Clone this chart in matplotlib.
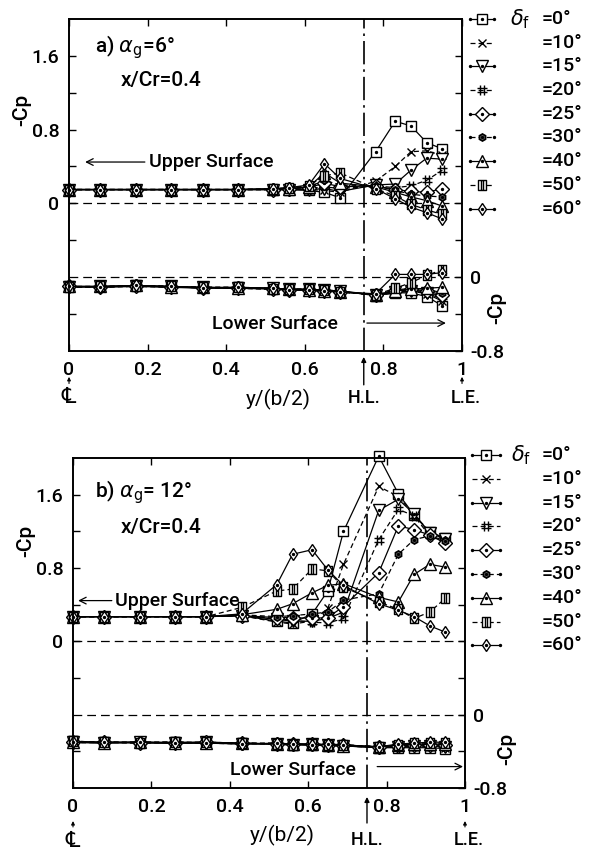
import matplotlib
matplotlib.use("Agg")
import matplotlib.pyplot as plt
from matplotlib.path import Path

plt.rcParams['font.family'] = ['Roboto', 'DejaVu Sans']
plt.rcParams['font.weight'] = 'medium'
plt.rcParams['mathtext.fontset'] = 'dejavusans'
plt.rcParams['font.size'] = 13

# spanwise stations y/(b/2)
span = [0.0, 0.08, 0.17, 0.26, 0.34, 0.43, 0.52, 0.56, 0.61, 0.65, 0.69,
        0.78, 0.83, 0.87, 0.91, 0.95]

flap_labels = ["=0°", "=10°", "=15°", "=20°", "=25°", "=30°", "=40°", "=50°", "=60°"]

# (a) alpha_g = 6 deg, upper surface -Cp (left scale)
up_a_0 = [0.15, 0.15, 0.15, 0.15, 0.15, 0.15, 0.15, 0.15, 0.14, 0.12, 0.06, 0.56, 0.89, 0.84, 0.66, 0.59]
up_a_10 = [0.15, 0.15, 0.15, 0.15, 0.15, 0.15, 0.15, 0.15, 0.15, 0.14, 0.12, 0.24, 0.40, 0.56, 0.57, 0.52]
up_a_15 = [0.15, 0.15, 0.15, 0.15, 0.15, 0.15, 0.15, 0.15, 0.15, 0.16, 0.13, 0.20, 0.21, 0.36, 0.49, 0.48]
up_a_20 = [0.15, 0.15, 0.15, 0.15, 0.15, 0.15, 0.15, 0.15, 0.16, 0.18, 0.16, 0.19, 0.17, 0.19, 0.25, 0.36]
up_a_25 = [0.15, 0.15, 0.15, 0.15, 0.15, 0.15, 0.15, 0.16, 0.17, 0.22, 0.18, 0.19, 0.15, 0.13, 0.12, 0.16]
up_a_30 = [0.15, 0.15, 0.15, 0.15, 0.15, 0.15, 0.15, 0.16, 0.18, 0.25, 0.20, 0.19, 0.14, 0.10, 0.08, 0.07]
up_a_40 = [0.15, 0.15, 0.15, 0.15, 0.15, 0.15, 0.16, 0.16, 0.18, 0.33, 0.22, 0.18, 0.12, 0.07, 0.03, -0.03]
up_a_50 = [0.15, 0.15, 0.15, 0.15, 0.15, 0.15, 0.16, 0.17, 0.19, 0.30, 0.33, 0.16, 0.08, -0.01, -0.07, -0.12]
up_a_60 = [0.15, 0.15, 0.15, 0.15, 0.15, 0.15, 0.16, 0.17, 0.20, 0.43, 0.27, 0.16, 0.05, -0.04, -0.10, -0.17]

# (a) lower surface -Cp (right scale)
lo_a_0 = [-0.10, -0.10, -0.09, -0.10, -0.11, -0.11, -0.12, -0.13, -0.13, -0.14, -0.15, -0.20, -0.17, -0.17, -0.21, -0.31]
lo_a_10 = [-0.10, -0.10, -0.09, -0.10, -0.11, -0.11, -0.12, -0.13, -0.13, -0.14, -0.15, -0.20, -0.17, -0.15, -0.18, -0.26]
lo_a_15 = [-0.11, -0.10, -0.10, -0.10, -0.11, -0.12, -0.12, -0.13, -0.13, -0.14, -0.15, -0.19, -0.16, -0.15, -0.17, -0.24]
lo_a_20 = [-0.11, -0.11, -0.10, -0.11, -0.11, -0.12, -0.13, -0.13, -0.14, -0.14, -0.16, -0.19, -0.15, -0.14, -0.16, -0.21]
lo_a_25 = [-0.10, -0.11, -0.10, -0.11, -0.12, -0.12, -0.13, -0.14, -0.14, -0.15, -0.16, -0.19, -0.15, -0.13, -0.15, -0.19]
lo_a_30 = [-0.11, -0.11, -0.09, -0.10, -0.12, -0.12, -0.13, -0.14, -0.14, -0.15, -0.16, -0.19, -0.14, -0.12, -0.13, -0.17]
lo_a_40 = [-0.10, -0.10, -0.09, -0.11, -0.11, -0.12, -0.12, -0.13, -0.14, -0.15, -0.16, -0.19, -0.15, -0.13, -0.12, -0.11]
lo_a_50 = [-0.11, -0.10, -0.10, -0.10, -0.11, -0.11, -0.13, -0.13, -0.13, -0.14, -0.16, -0.19, -0.12, -0.06, 0.02, 0.08]
lo_a_60 = [-0.10, -0.11, -0.09, -0.10, -0.12, -0.11, -0.12, -0.14, -0.14, -0.15, -0.16, -0.18, 0.03, 0.03, 0.03, 0.05]

# (b) alpha_g = 12 deg, upper surface -Cp (left scale)
up_b_0 = [0.27, 0.27, 0.27, 0.27, 0.27, 0.28, 0.22, 0.20, 0.30, 0.55, 1.20, 2.02, 1.61, 1.38, 1.19, 1.13]
up_b_10 = [0.27, 0.27, 0.27, 0.27, 0.27, 0.28, 0.21, 0.19, 0.22, 0.36, 0.84, 1.69, 1.58, 1.38, 1.20, 1.10]
up_b_15 = [0.27, 0.27, 0.27, 0.27, 0.27, 0.28, 0.24, 0.22, 0.22, 0.25, 0.32, 1.43, 1.55, 1.39, 1.18, 1.12]
up_b_20 = [0.27, 0.27, 0.27, 0.27, 0.27, 0.28, 0.25, 0.23, 0.21, 0.20, 0.25, 1.11, 1.44, 1.37, 1.15, 1.08]
up_b_25 = [0.27, 0.27, 0.27, 0.27, 0.27, 0.28, 0.26, 0.26, 0.25, 0.26, 0.38, 0.75, 1.26, 1.22, 1.16, 1.07]
up_b_30 = [0.27, 0.27, 0.27, 0.27, 0.27, 0.29, 0.27, 0.28, 0.30, 0.32, 0.45, 0.52, 0.95, 1.11, 1.15, 1.10]
up_b_40 = [0.27, 0.27, 0.27, 0.27, 0.27, 0.29, 0.35, 0.41, 0.53, 0.61, 0.63, 0.48, 0.43, 0.73, 0.84, 0.81]
up_b_50 = [0.27, 0.27, 0.27, 0.27, 0.27, 0.37, 0.55, 0.57, 0.79, 0.77, 0.59, 0.43, 0.35, 0.25, 0.32, 0.47]
up_b_60 = [0.27, 0.27, 0.27, 0.27, 0.27, 0.30, 0.62, 0.95, 1.00, 0.78, 0.61, 0.41, 0.34, 0.27, 0.17, 0.10]

# (b) lower surface -Cp (right scale)
lo_b_0 = [-0.29, -0.30, -0.30, -0.30, -0.30, -0.31, -0.32, -0.33, -0.33, -0.34, -0.34, -0.36, -0.36, -0.36, -0.36, -0.37]
lo_b_10 = [-0.30, -0.30, -0.31, -0.30, -0.31, -0.31, -0.32, -0.32, -0.33, -0.33, -0.34, -0.36, -0.35, -0.35, -0.35, -0.36]
lo_b_15 = [-0.30, -0.31, -0.30, -0.31, -0.30, -0.32, -0.32, -0.33, -0.32, -0.33, -0.34, -0.36, -0.35, -0.34, -0.34, -0.35]
lo_b_20 = [-0.29, -0.30, -0.30, -0.30, -0.31, -0.31, -0.31, -0.32, -0.33, -0.33, -0.33, -0.35, -0.34, -0.34, -0.34, -0.34]
lo_b_25 = [-0.30, -0.30, -0.31, -0.31, -0.30, -0.31, -0.32, -0.32, -0.32, -0.33, -0.33, -0.35, -0.34, -0.33, -0.33, -0.33]
lo_b_30 = [-0.31, -0.30, -0.30, -0.30, -0.31, -0.32, -0.31, -0.32, -0.33, -0.32, -0.33, -0.35, -0.33, -0.33, -0.32, -0.33]
lo_b_40 = [-0.30, -0.31, -0.30, -0.31, -0.31, -0.31, -0.32, -0.32, -0.32, -0.33, -0.34, -0.35, -0.33, -0.32, -0.32, -0.32]
lo_b_50 = [-0.29, -0.30, -0.31, -0.30, -0.30, -0.31, -0.32, -0.33, -0.32, -0.33, -0.33, -0.35, -0.33, -0.31, -0.31, -0.31]
lo_b_60 = [-0.30, -0.30, -0.30, -0.31, -0.31, -0.32, -0.31, -0.32, -0.33, -0.32, -0.33, -0.35, -0.32, -0.31, -0.30, -0.30]

upper_a = [up_a_0, up_a_10, up_a_15, up_a_20, up_a_25, up_a_30, up_a_40, up_a_50, up_a_60]
lower_a = [lo_a_0, lo_a_10, lo_a_15, lo_a_20, lo_a_25, lo_a_30, lo_a_40, lo_a_50, lo_a_60]
upper_b = [up_b_0, up_b_10, up_b_15, up_b_20, up_b_25, up_b_30, up_b_40, up_b_50, up_b_60]
lower_b = [lo_b_0, lo_b_10, lo_b_15, lo_b_20, lo_b_25, lo_b_30, lo_b_40, lo_b_50, lo_b_60]

# ---- marker shapes -------------------------------------------------------
M, L, C = Path.MOVETO, Path.LINETO, Path.CLOSEPOLY
hash_mark = Path([(-0.35, -1), (-0.35, 1), (0.35, -1), (0.35, 1),
                  (-1, -0.35), (1, -0.35), (-1, 0.35), (1, 0.35)],
                 [M, L, M, L, M, L, M, L])
barred_square = Path([(-0.8, -1), (0.8, -1), (0.8, 1), (-0.8, 1), (-0.8, -1),
                      (-0.25, -1), (-0.25, 1), (0.25, -1), (0.25, 1)],
                     [M, L, L, L, C, M, L, M, L])

styles = [
    dict(marker='s', dashed=False, ms=7.0, face='white', dot=True, mew=1.0),
    dict(marker='x', dashed=True, ms=6.0, face='none', dot=False, mew=1.0),
    dict(marker='v', dashed=False, ms=8.5, face='white', dot=True, mew=1.0),
    dict(marker=hash_mark, dashed=True, ms=7.0, face='none', dot=False, mew=1.0),
    dict(marker='D', dashed=False, ms=7.0, face='white', dot=True, mew=1.0),
    dict(marker='h', dashed=True, ms=5.0, face='0.5', dot=True, mew=1.3),
    dict(marker='^', dashed=False, ms=8.5, face='white', dot=True, mew=1.0),
    dict(marker=barred_square, dashed=True, ms=7.0, face='white', dot=False, mew=1.0),
    dict(marker='d', dashed=False, ms=6.5, face='white', dot=True, mew=1.0),
]


def draw_series(ax, x, y, st, **kw):
    line_kw = dict(color='black', lw=0.9, marker=st['marker'], ms=st['ms'],
                   mfc=st['face'], mec='black', mew=st['mew'], clip_on=False)
    line_kw.update(kw)
    ln, = ax.plot(x, y, **line_kw)
    if st['dashed']:
        ln.set_dashes((4, 2.5))
    if st['dot']:
        ax.plot(x, y, ls='none', marker='o', ms=1.4, color='black',
                clip_on=False, **{k: v for k, v in kw.items() if k == 'transform'})


def draw_key(ax, x0, x1, xtxt, xdelta, y0, dy):
    xm = 0.5 * (x0 + x1)
    for i, (st, lab) in enumerate(zip(styles, flap_labels)):
        y = y0 - i * dy
        draw_series(ax, [x0, xm, x1], [y, y, y], st,
                    transform=ax.transAxes, markevery=[1])
        ax.text(xtxt, y, lab, transform=ax.transAxes, ha='left', va='center',
                fontsize=14)
    ax.text(xdelta, y0, r'$\delta_{\rm f}$', transform=ax.transAxes,
            ha='left', va='center', fontsize=15)


def setup_panel(ax, upper, lower, title, key_geom, text_geom):
    ax.set_xlim(0, 1)
    ax.set_ylim(-1.6, 2.0)
    tw = ax.twinx()
    tw.set_ylim(-0.8, 2.8)

    # reference lines: zero of each scale and the hinge line
    ax.axhline(0, color='black', lw=0.9, dashes=(7, 4), zorder=1)
    tw.axhline(0, color='black', lw=0.9, dashes=(7, 4), zorder=1)
    ax.axvline(0.75, color='black', lw=1.2, dashes=(14, 3, 1.5, 3), zorder=1)

    for vals, st in zip(upper, styles):
        draw_series(ax, span, vals, st)
    for vals, st in zip(lower, styles):
        draw_series(tw, span, vals, st)

    # axes, ticks
    ax.set_xticks([0, 0.2, 0.4, 0.6, 0.8, 1.0])
    ax.set_xticklabels(['0', '0.2', '0.4', '0.6', '0.8', '1'])
    ax.set_yticks([0, 0.8, 1.6])
    ax.set_yticklabels(['0', '0.8', '1.6'])
    ax.set_yticks([-1.2, -0.4, 0.4, 1.2], minor=True)
    tw.set_yticks([-0.8, 0])
    tw.set_yticklabels(['-0.8', '0'])
    tw.set_yticks([-0.4, 0.4, 0.8, 1.2, 1.6, 2.0, 2.4], minor=True)
    ax.tick_params(axis='both', which='both', direction='in', length=5,
                   width=1.0, labelsize=14, pad=7)
    ax.tick_params(axis='x', top=True, labeltop=False)
    ax.tick_params(axis='y', left=True, right=False)
    tw.tick_params(axis='y', which='both', direction='in', length=5,
                   width=1.0, labelsize=14, pad=6, left=False, right=True)
    for a in (ax, tw):
        for s in a.spines.values():
            s.set_linewidth(1.2)

    t = text_geom
    ax.text(-0.12, t['lab_l'], '-Cp', rotation=90, transform=ax.transAxes,
            ha='center', va='center', fontsize=15)
    ax.text(t['lab_rx'], t['lab_r'], '-Cp', rotation=90,
            transform=ax.transAxes, ha='center', va='center', fontsize=15)

    ax.text(t['title_x'], t['title_y'], title, transform=ax.transAxes,
            ha='left', va='center', fontsize=15)
    ax.text(t['sub_x'], t['sub_y'], 'x/Cr=0.4', transform=ax.transAxes,
            ha='left', va='center', fontsize=15)

    ax.annotate('', xy=(t['up_a0'], t['up_y']), xytext=(t['up_a1'], t['up_y']),
                xycoords='axes fraction',
                arrowprops=dict(arrowstyle='->', lw=0.9, mutation_scale=12,
                                shrinkA=0, shrinkB=0))
    ax.text(t['up_tx'], t['up_y'], 'Upper Surface', transform=ax.transAxes,
            ha='left', va='center', fontsize=14)
    ax.text(t['lo_tx'], t['lo_y'], 'Lower Surface', transform=ax.transAxes,
            ha='left', va='center', fontsize=14)
    ax.annotate('', xy=(t['lo_a1'], t['lo_ay']), xytext=(t['lo_a0'], t['lo_ay']),
                xycoords='axes fraction',
                arrowprops=dict(arrowstyle='->', lw=0.9, mutation_scale=12,
                                shrinkA=0, shrinkB=0))

    # below-axis markers: centre line, hinge line, leading edge
    ax.set_xlabel('y/(b/2)', fontsize=15)
    ax.xaxis.set_label_coords(t['xl_x'], t['xl_y'])
    ax.annotate('', xy=(0.75, t['hl_tip']), xytext=(0.75, t['hl_tail']),
                xycoords='axes fraction',
                arrowprops=dict(arrowstyle='-|>', lw=1.0, mutation_scale=7,
                                color='black', shrinkA=0, shrinkB=0))
    ax.text(0.75, t['hl_y'], 'H.L.', transform=ax.transAxes, ha='center',
            va='center', fontsize=13)
    ax.text(1.01, t['hl_y'], 'L.E.', transform=ax.transAxes, ha='center',
            va='center', fontsize=13)
    for xx in (0.0, 1.0):
        ax.annotate('', xy=(xx, t['sm_tip']), xytext=(xx, t['sm_tail']),
                    xycoords='axes fraction',
                    arrowprops=dict(arrowstyle='-|>', lw=0.8, mutation_scale=5,
                                    color='black', shrinkA=0, shrinkB=0))
    ax.text(0.0, t['cl_y'], '\u2104', transform=ax.transAxes, ha='center',
            va='center', fontsize=16, family=['DejaVu Sans'])

    draw_key(ax, *key_geom)
    return tw


fig = plt.figure(figsize=(5.94, 8.56), dpi=100)
ax_a = fig.add_axes([0.1162, 0.5900, 0.6616, 0.3879])
ax_b = fig.add_axes([0.1229, 0.0794, 0.6599, 0.3855])

setup_panel(ax_a, upper_a, lower_a, r'a) $\alpha_{\rm g}$=6°',
            (1.020, 1.081, 1.203, 1.122, 1.0, 0.0714),
            dict(lab_l=0.726, lab_rx=1.089, lab_r=0.13,
                 title_x=0.066, title_y=0.916, sub_x=0.132, sub_y=0.816,
                 up_a0=0.041, up_a1=0.193, up_y=0.569, up_tx=0.203,
                 lo_tx=0.364, lo_y=0.081, lo_a0=0.758, lo_a1=0.959, lo_ay=0.084,
                 xl_x=0.532, xl_y=-0.115, hl_tip=-0.018, hl_tail=-0.102,
                 hl_y=-0.142, sm_tip=-0.078, sm_tail=-0.098, cl_y=-0.14))

setup_panel(ax_b, upper_b, lower_b, r'b) $\alpha_{\rm g}$= 12°',
            (1.018, 1.089, 1.196, 1.118, 1.009, 0.0721),
            dict(lab_l=0.75, lab_rx=1.107, lab_r=0.12,
                 title_x=0.056, title_y=0.897, sub_x=0.122, sub_y=0.791,
                 up_a0=0.013, up_a1=0.099, up_y=0.568, up_tx=0.107,
                 lo_tx=0.40, lo_y=0.055, lo_a0=0.776, lo_a1=0.995, lo_ay=0.065,
                 xl_x=0.533, xl_y=-0.112, hl_tip=-0.027, hl_tail=-0.106,
                 hl_y=-0.158, sm_tip=-0.100, sm_tail=-0.118, cl_y=-0.16))

fig.savefig('out.png', dpi=100)
